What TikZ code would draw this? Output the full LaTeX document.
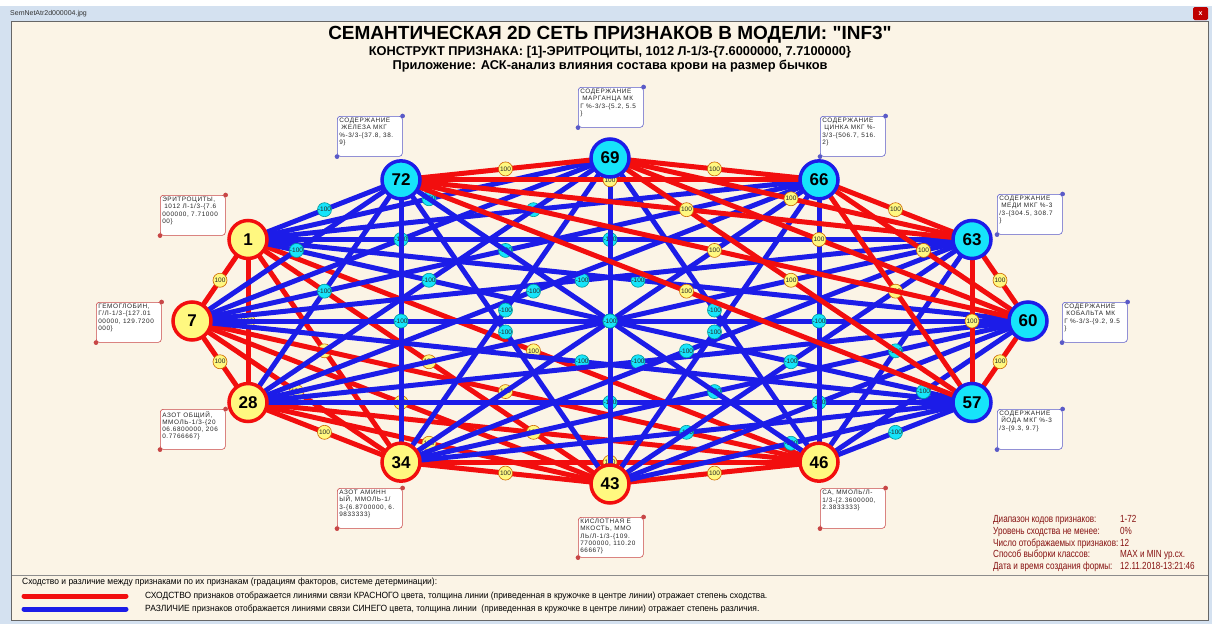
\documentclass[tikz,border=0pt]{standalone}
\usepackage{fontspec}
\setmainfont{Liberation Sans}
\newfontfamily\infofont[FakeStretch=0.79]{Liberation Sans}
\newfontfamily\legendfont[FakeStretch=0.94]{Liberation Sans}
\newfontfamily\tagfont[LetterSpace=9]{Liberation Sans}
\usetikzlibrary{calc}
\definecolor{paperColor}{RGB}{251,244,230}
\definecolor{simColor}{RGB}{242,14,14}
\definecolor{difColor}{RGB}{28,28,232}
\definecolor{yellowFill}{RGB}{255,248,128}
\definecolor{cyanFill}{RGB}{22,228,250}
\definecolor{infoColor}{RGB}{135,18,18}
\definecolor{chromeColor}{RGB}{212,225,240}
\definecolor{simTag}{RGB}{200,70,70}
\definecolor{difTag}{RGB}{90,90,200}
\pgfdeclarelayer{backdrop}
\pgfdeclarelayer{background}
\pgfsetlayers{backdrop,background,main}
\newcommand\infoline[2]{\makebox[127pt][l]{#1}#2\\}

\begin{document}
\begin{tikzpicture}[x=1pt,y=-1pt,
  feat/.style={circle,minimum size=38pt,inner sep=0pt,line width=3.5pt,
    font=\fontsize{17}{17}\selectfont\bfseries},
  feat r/.style={feat,draw=simColor,fill=yellowFill},
  feat b/.style={feat,draw=difColor,fill=cyanFill},
  simlink/.style={simColor,line width=5pt},
  diflink/.style={difColor,line width=5pt},
  linkmark/.style={circle,minimum size=14pt,inner sep=0pt,line width=0.6pt,
    font=\fontsize{6.5}{6.5}\selectfont,text=black!85},
  simmark/.style={linkmark,draw=orange!80!black,fill=yellowFill},
  difmark/.style={linkmark,draw=teal!80!cyan,fill=cyanFill},
  tag/.style={draw,rounded corners=3pt,fill=white,line width=0.6pt,inner sep=2pt,
    anchor=north west,font=\tagfont\fontsize{6.4}{7.2}\selectfont,text=black!85},
  tag r/.style={tag,draw=simTag},
  tag b/.style={tag,draw=difTag},
  tagdot/.style={line width=0.6pt,fill=white},
  info/.style={anchor=north west,inner sep=0pt,text=infoColor,align=left,
    font=\infofont\fontsize{10.3}{11.6}\selectfont},
  legend/.style={anchor=west,inner sep=0pt,font=\legendfont\fontsize{9}{9}\selectfont}
]
\useasboundingbox (0,0) rectangle (1212,624);

\begin{pgfonlayer}{backdrop}
\fill[white] (0,0) rectangle (1212,624);
\fill[chromeColor] (0,6) rectangle (1212,624);
\fill[paperColor] (12,22) rectangle (1208,620);
\draw[black!60] (11.5,21.5) rectangle (1208.5,620.5);
\draw[black!45] (12,575.5) -- (1208,575.5);
\fill[red!75!black, rounded corners=1.5pt] (1193,7) rectangle (1208,20);
\end{pgfonlayer}
\node[anchor=west,inner sep=0pt,font=\fontsize{7}{7}\selectfont,text=black!80] (wintitle) at (10,14) {SemNetAtr2d000004.jpg};
\node[inner sep=0pt,font=\fontsize{7}{7}\selectfont\bfseries,text=white] (winclose) at (1200.5,13.5) {x};

\node[font=\fontsize{19}{20}\selectfont\bfseries] (title) at (610,35) {СЕМАНТИЧЕСКАЯ 2D СЕТЬ ПРИЗНАКОВ В МОДЕЛИ: \textquotedbl INF3\textquotedbl};
\node[font=\fontsize{12.8}{13}\selectfont\bfseries] (construct) at (610,52) {КОНСТРУКТ ПРИЗНАКА: [1]-ЭРИТРОЦИТЫ, 1012 Л-1/3-\{7.6000000, 7.7100000\}};
\node[font=\fontsize{12.8}{13}\selectfont\bfseries] (appname) at (610,66) {Приложение: АСК-анализ влияния состава крови на размер бычков};

\foreach \n/\g [count=\k] in {1/r,7/r,28/r,34/r,43/r,46/r,57/b,60/b,63/b,66/b,69/b,72/b}
  \node[feat \g] (n\n) at ({610+418*cos(120+30*\k)},{321-163*sin(120+30*\k)}) {\n};

\begin{pgfonlayer}{background}
\foreach \a/\ga [count=\i] in {1/r,7/r,28/r,34/r,43/r,46/r,57/b,60/b,63/b,66/b,69/b,72/b}
  \foreach \b/\gb [count=\j] in {1/r,7/r,28/r,34/r,43/r,46/r,57/b,60/b,63/b,66/b,69/b,72/b}{
    \ifnum\j>\i
      \if\ga\gb
        \draw[simlink] (n\a.center) -- node[simmark] {100} (n\b.center);
      \else
        \draw[diflink] (n\a.center) -- node[difmark] {-100} (n\b.center);
      \fi
    \fi
  }
\end{pgfonlayer}

\node[tag r] (t1) at (160,195) {\parbox[c][36pt][t]{61pt}{ЭРИТРОЦИТЫ,\\\hspace*{2pt}1012 Л-1/3-\{7.6\\000000, 7.71000\\00\}}};
\node[tag r] (t7) at (96,302) {\parbox[c][36pt][t]{61pt}{ГЕМОГЛОБИН,\\Г/Л-1/3-\{127.01\\00000, 129.7200\\000\}}};
\node[tag r] (t28) at (160,409) {\parbox[c][36pt][t]{61pt}{АЗОТ ОБЩИЙ,\\ММОЛЬ-1/3-\{20\\06.6800000, 206\\0.7766667\}}};
\node[tag r] (t34) at (337,488) {\parbox[c][36pt][t]{61pt}{АЗОТ АМИНН\\ЫЙ, ММОЛЬ-1/\\3-\{6.8700000, 6.\\9833333\}}};
\node[tag r] (t43) at (578,517) {\parbox[c][36pt][t]{61pt}{КИСЛОТНАЯ Е\\МКОСТЬ, ММО\\ЛЬ/Л-1/3-\{109.\\7700000, 110.20\\66667\}}};
\node[tag r] (t46) at (820,488) {\parbox[c][36pt][t]{61pt}{СА, ММОЛЬ/Л-\\1/3-\{2.3600000,\\2.3833333\}}};
\node[tag b] (t57) at (997,409) {\parbox[c][36pt][t]{61pt}{СОДЕРЖАНИЕ\\\hspace*{2pt}ЙОДА МКГ \%-3\\/3-\{9.3, 9.7\}}};
\node[tag b] (t60) at (1062,302) {\parbox[c][36pt][t]{61pt}{СОДЕРЖАНИЕ\\\hspace*{2pt}КОБАЛЬТА МК\\Г \%-3/3-\{9.2, 9.5\\\}}};
\node[tag b] (t63) at (997,194) {\parbox[c][36pt][t]{61pt}{СОДЕРЖАНИЕ\\\hspace*{2pt}МЕДИ МКГ \%-3\\/3-\{304.5, 308.7\\\}}};
\node[tag b] (t66) at (820,116) {\parbox[c][36pt][t]{61pt}{СОДЕРЖАНИЕ\\\hspace*{2pt}ЦИНКА МКГ \%-\\3/3-\{506.7, 516.\\2\}}};
\node[tag b] (t69) at (578,87) {\parbox[c][36pt][t]{61pt}{СОДЕРЖАНИЕ\\\hspace*{2pt}МАРГАНЦА МК\\Г \%-3/3-\{5.2, 5.5\\\}}};
\node[tag b] (t72) at (337,116) {\parbox[c][36pt][t]{61pt}{СОДЕРЖАНИЕ\\\hspace*{2pt}ЖЕЛЕЗА МКГ\\\%-3/3-\{37.8, 38.\\9\}}};
\foreach \t in {1,7,28,34,43,46}{
  \draw[tagdot,simTag] (t\t.north east) circle (2pt);
  \draw[tagdot,simTag] (t\t.south west) circle (2pt);
}
\foreach \t in {57,60,63,66,69,72}{
  \draw[tagdot,difTag] (t\t.north east) circle (2pt);
  \draw[tagdot,difTag] (t\t.south west) circle (2pt);
}

\node[info] (params) at (993,515.5) {%
\infoline{Диапазон кодов признаков:}{1-72}
\infoline{Уровень сходства не менее:}{0\%}
\infoline{Число отображаемых признаков:}{12}
\infoline{Способ выборки классов:}{MAX и MIN ур.сх.}
\makebox[127pt][l]{Дата и время создания формы:}12.11.2018-13:21:46};

\node[legend] (legtitle) at (22,582) {Сходство и различие между признаками по их признакам (градациям факторов, системе детерминации):};
\coordinate (simA) at (24,596);
\coordinate (simB) at (126,596);
\coordinate (difA) at (24,609);
\coordinate (difB) at (126,609);
\draw[simColor,line width=5pt,line cap=round] (simA) -- (simB);
\draw[difColor,line width=5pt,line cap=round] (difA) -- (difB);
\node[legend] (legsim) at (145,596) {СХОДСТВО признаков отображается линиями связи КРАСНОГО цвета, толщина линии (приведенная в кружочке в центре линии) отражает степень сходства.};
\node[legend] (legdif) at (145,609) {РАЗЛИЧИЕ признаков отображается линиями связи СИНЕГО цвета, толщина линии \ (приведенная в кружочке в центре линии) отражает степень различия.};
\end{tikzpicture}
\end{document}
